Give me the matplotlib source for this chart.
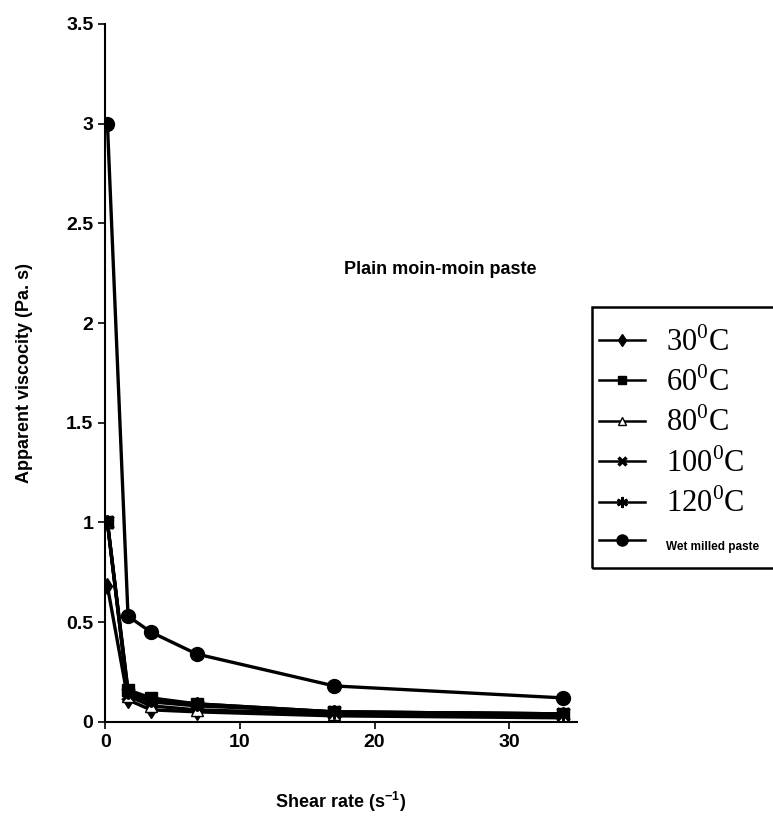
import numpy as np
import matplotlib.pyplot as plt
from matplotlib.patches import Rectangle

shear_rate = [0.17, 1.7, 3.4, 6.8, 17, 34]

visc_30 = [0.68, 0.11, 0.06, 0.05, 0.03, 0.02]
visc_60 = [1.0, 0.16, 0.12, 0.09, 0.05, 0.04]
visc_80 = [1.0, 0.13, 0.08, 0.06, 0.04, 0.03]
visc_100 = [1.0, 0.14, 0.10, 0.08, 0.05, 0.04]
visc_120 = [1.0, 0.15, 0.11, 0.09, 0.05, 0.04]
visc_wet = [3.0, 0.53, 0.45, 0.34, 0.18, 0.12]

labels = ["30$^0$C", "60$^0$C", "80$^0$C", "100$^0$C", "120$^0$C", "Wet milled paste"]

plt.rcParams['font.family'] = ['Liberation Sans', 'DejaVu Sans']
plt.rcParams['mathtext.fontset'] = 'custom'
plt.rcParams['mathtext.rm'] = 'Liberation Serif'
plt.rcParams['mathtext.bf'] = 'Liberation Sans:bold'

fig = plt.figure(figsize=(7.73, 8.24), dpi=100)
ax = fig.add_axes([0.136, 0.124, 0.61, 0.847])

kw = dict(color='black', lw=2.4, ms=8)
h1, = ax.plot(shear_rate, visc_30, marker='d', **kw)
h2, = ax.plot(shear_rate, visc_60, marker='s', **kw)
h3, = ax.plot(shear_rate, visc_80, marker='^', mfc='white', **kw)
h4, = ax.plot(shear_rate, visc_100, marker='x', mew=2.5, **kw)
h5, = ax.plot(shear_rate, visc_120, marker=(6, 2, 0), mew=1.8, color='black', lw=2.4, ms=10)
h6, = ax.plot(shear_rate, visc_wet, marker='o', lw=2.4, color='black', ms=10)

ax.set_xlim(0, 35)
ax.set_ylim(0, 3.5)
ax.set_xticks([0, 10, 20, 30])
ax.set_yticks([0, 0.5, 1, 1.5, 2, 2.5, 3, 3.5])
ax.set_yticklabels(['0', '0.5', '1', '1.5', '2', '2.5', '3', '3.5'])
ax.spines['top'].set_visible(False)
ax.spines['right'].set_visible(False)
ax.spines['left'].set_linewidth(1.5)
ax.spines['bottom'].set_linewidth(1.5)
ax.tick_params(labelsize=14, width=1.2, length=5)
for t in ax.get_xticklabels() + ax.get_yticklabels():
    t.set_fontweight('bold')

ax.set_xlabel("Shear rate (s$\\mathbf{^{-1}}$)", fontsize=13, fontweight='bold', labelpad=28)
ax.set_ylabel("Apparent viscocity (Pa. s)", fontsize=13, fontweight='bold', labelpad=24)
ax.text(0.71, 0.642, "Plain moin-moin paste", transform=ax.transAxes,
        fontsize=13, fontweight='bold', ha='center')

# legend box drawn separately so the frame can run off the right edge
fig.patches.append(Rectangle((0.766, 0.311), 0.25, 0.317, transform=fig.transFigure,
                             fill=False, edgecolor='black', lw=1.8))

leg = fig.legend([h1, h2, h3, h4, h5, h6], labels, loc='upper left',
                 bbox_to_anchor=(0.775, 0.603), borderaxespad=0, frameon=False,
                 prop={'family': 'Liberation Serif', 'size': 22},
                 handlelength=1.5, labelspacing=0.32, borderpad=0, handletextpad=0.7,
                 markerscale=0.8)
for line in leg.get_lines():
    line.set_linewidth(1.8)
leg.get_texts()[-1].set_fontproperties({'family': 'Liberation Sans', 'size': 8.5, 'weight': 'bold'})

fig.savefig("out.png", dpi=100)
